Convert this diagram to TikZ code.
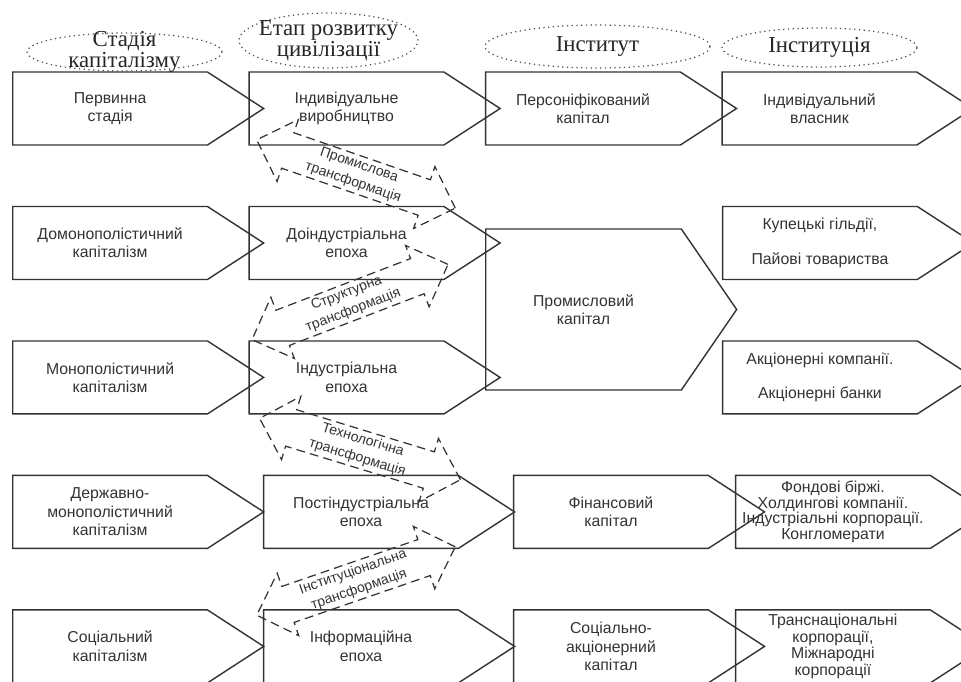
\documentclass[tikz,border=0pt]{standalone}
\usepackage{fontspec}
\setmainfont{Liberation Sans}
\newfontfamily\headfont{Liberation Serif}
\usetikzlibrary{shapes.symbols,shapes.arrows,shapes.geometric}

\begin{document}
\begin{tikzpicture}[x=0.02cm, y=-0.02cm, node distance=2.69cm,
        box/.style={signal, signal to=east, signal from=nowhere, draw=black!80, line width=0.8pt,
            text=black!80, minimum width=5.02cm, minimum height=1.46cm, signal pointer angle=66,
            inner sep=1pt, align=center, font=\fontsize{9}{10.5}\selectfont},
        big/.style={minimum height=3.22cm, signal pointer angle=111},
        oval/.style={ellipse, draw=black!70, dotted, line width=0.7pt, inner sep=0pt},
        htext/.style={align=center, text=black!85, font=\headfont\fontsize{13}{12}\selectfont},
        trans/.style={double arrow, draw=black!80, dash pattern=on 5pt off 3pt, line width=0.7pt,
            double arrow head extend=0.28cm, minimum height=4.2cm, inner sep=1.5pt, align=center,
            text=black!80, font=\fontsize{8}{10.5}\selectfont}]
    \useasboundingbox (0,0) rectangle (961,681);

    % stages of capitalism
    \node[box, anchor=west] (s1) at (12,108.5) {Первинна\\стадія};
    \node[box] (s2) [below of=s1] {Домонополістичний\\капіталізм};
    \node[box] (s3) [below of=s2] {Монополістичний\\капіталізм};
    \node[box] (s4) [below of=s3] {Державно-\\монополістичний\\капіталізм};
    \node[box] (s5) [below of=s4] {Соціальний\\капіталізм};

    % epochs
    \node[box] (e1) [node distance=4.73cm, right of=s1] {Індивідуальне\\виробництво};
    \node[box] (e2) [node distance=4.73cm, right of=s2] {Доіндустріальна\\епоха};
    \node[box] (e3) [node distance=4.73cm, right of=s3] {Індустріальна\\епоха};
    \node[box] (e4) [node distance=5.02cm, right of=s4] {Постіндустріальна\\епоха};
    \node[box] (e5) [node distance=5.02cm, right of=s5] {Інформаційна\\епоха};

    % institutes
    \node[box] (i1) [node distance=4.73cm, right of=e1] {Персоніфікований\\капітал};
    \node[box, big, anchor=west] (i2) at (485,309.5) {Промисловий\\капітал};
    \node[box] (i4) [node distance=5cm, right of=e4] {Фінансовий\\капітал};
    \node[box] (i5) [node distance=5cm, right of=e5] {Соціально-\\акціонерний\\капітал};

    % institutions
    \node[box] (n1) [node distance=4.73cm, right of=i1] {Індивідуальний\\власник};
    \node[box] (n2) [node distance=9.47cm, right of=e2] {Купецькі гільдії,\\[9pt]Пайові товариства};
    \node[box] (n3) [node distance=9.47cm, right of=e3] {Акціонерні компанії.\\[9pt]Акціонерні банки};
    \node[box, font=\fontsize{9}{9}\selectfont] (n4) [node distance=4.44cm, right of=i4]
        {Фондові біржі.\\Холдингові компанії.\\Індустріальні корпорації.\\Конгломерати};
    \node[box, font=\fontsize{9}{9.5}\selectfont] (n5) [node distance=4.44cm, right of=i5]
        {Транснаціональні\\корпорації,\\Міжнародні\\корпорації};

    % headings
    \node[oval, minimum width=3.9cm, minimum height=0.76cm,
        label={[htext]center:Стадія\\капіталізму}] (h1) at (124.5,52) {};
    \node[oval, minimum width=3.58cm, minimum height=1.1cm,
        label={[htext]center:Етап розвитку\\цивілізації}] (h2) at (328.5,40.5) {};
    \node[oval, minimum width=4.5cm, minimum height=0.86cm,
        label={[htext]center:Інститут}] (h3) at (597.5,46.5) {};
    \node[oval, minimum width=3.9cm, minimum height=0.78cm,
        label={[htext]center:Інституція}] (h4) at (819.5,47.5) {};

    % transformations
    \node[trans, rotate=-19] (t1) at (356,174) {Промислова\\трансформація};
    \node[trans, rotate=21] (t2) at (350,302) {Структурна\\трансформація};
    \node[trans, rotate=-17] (t3) at (360,449) {Технологічна\\трансформація};
    \node[trans, rotate=19] (t4) at (356,581) {Інституціональна\\трансформація};
\end{tikzpicture}
\end{document}
